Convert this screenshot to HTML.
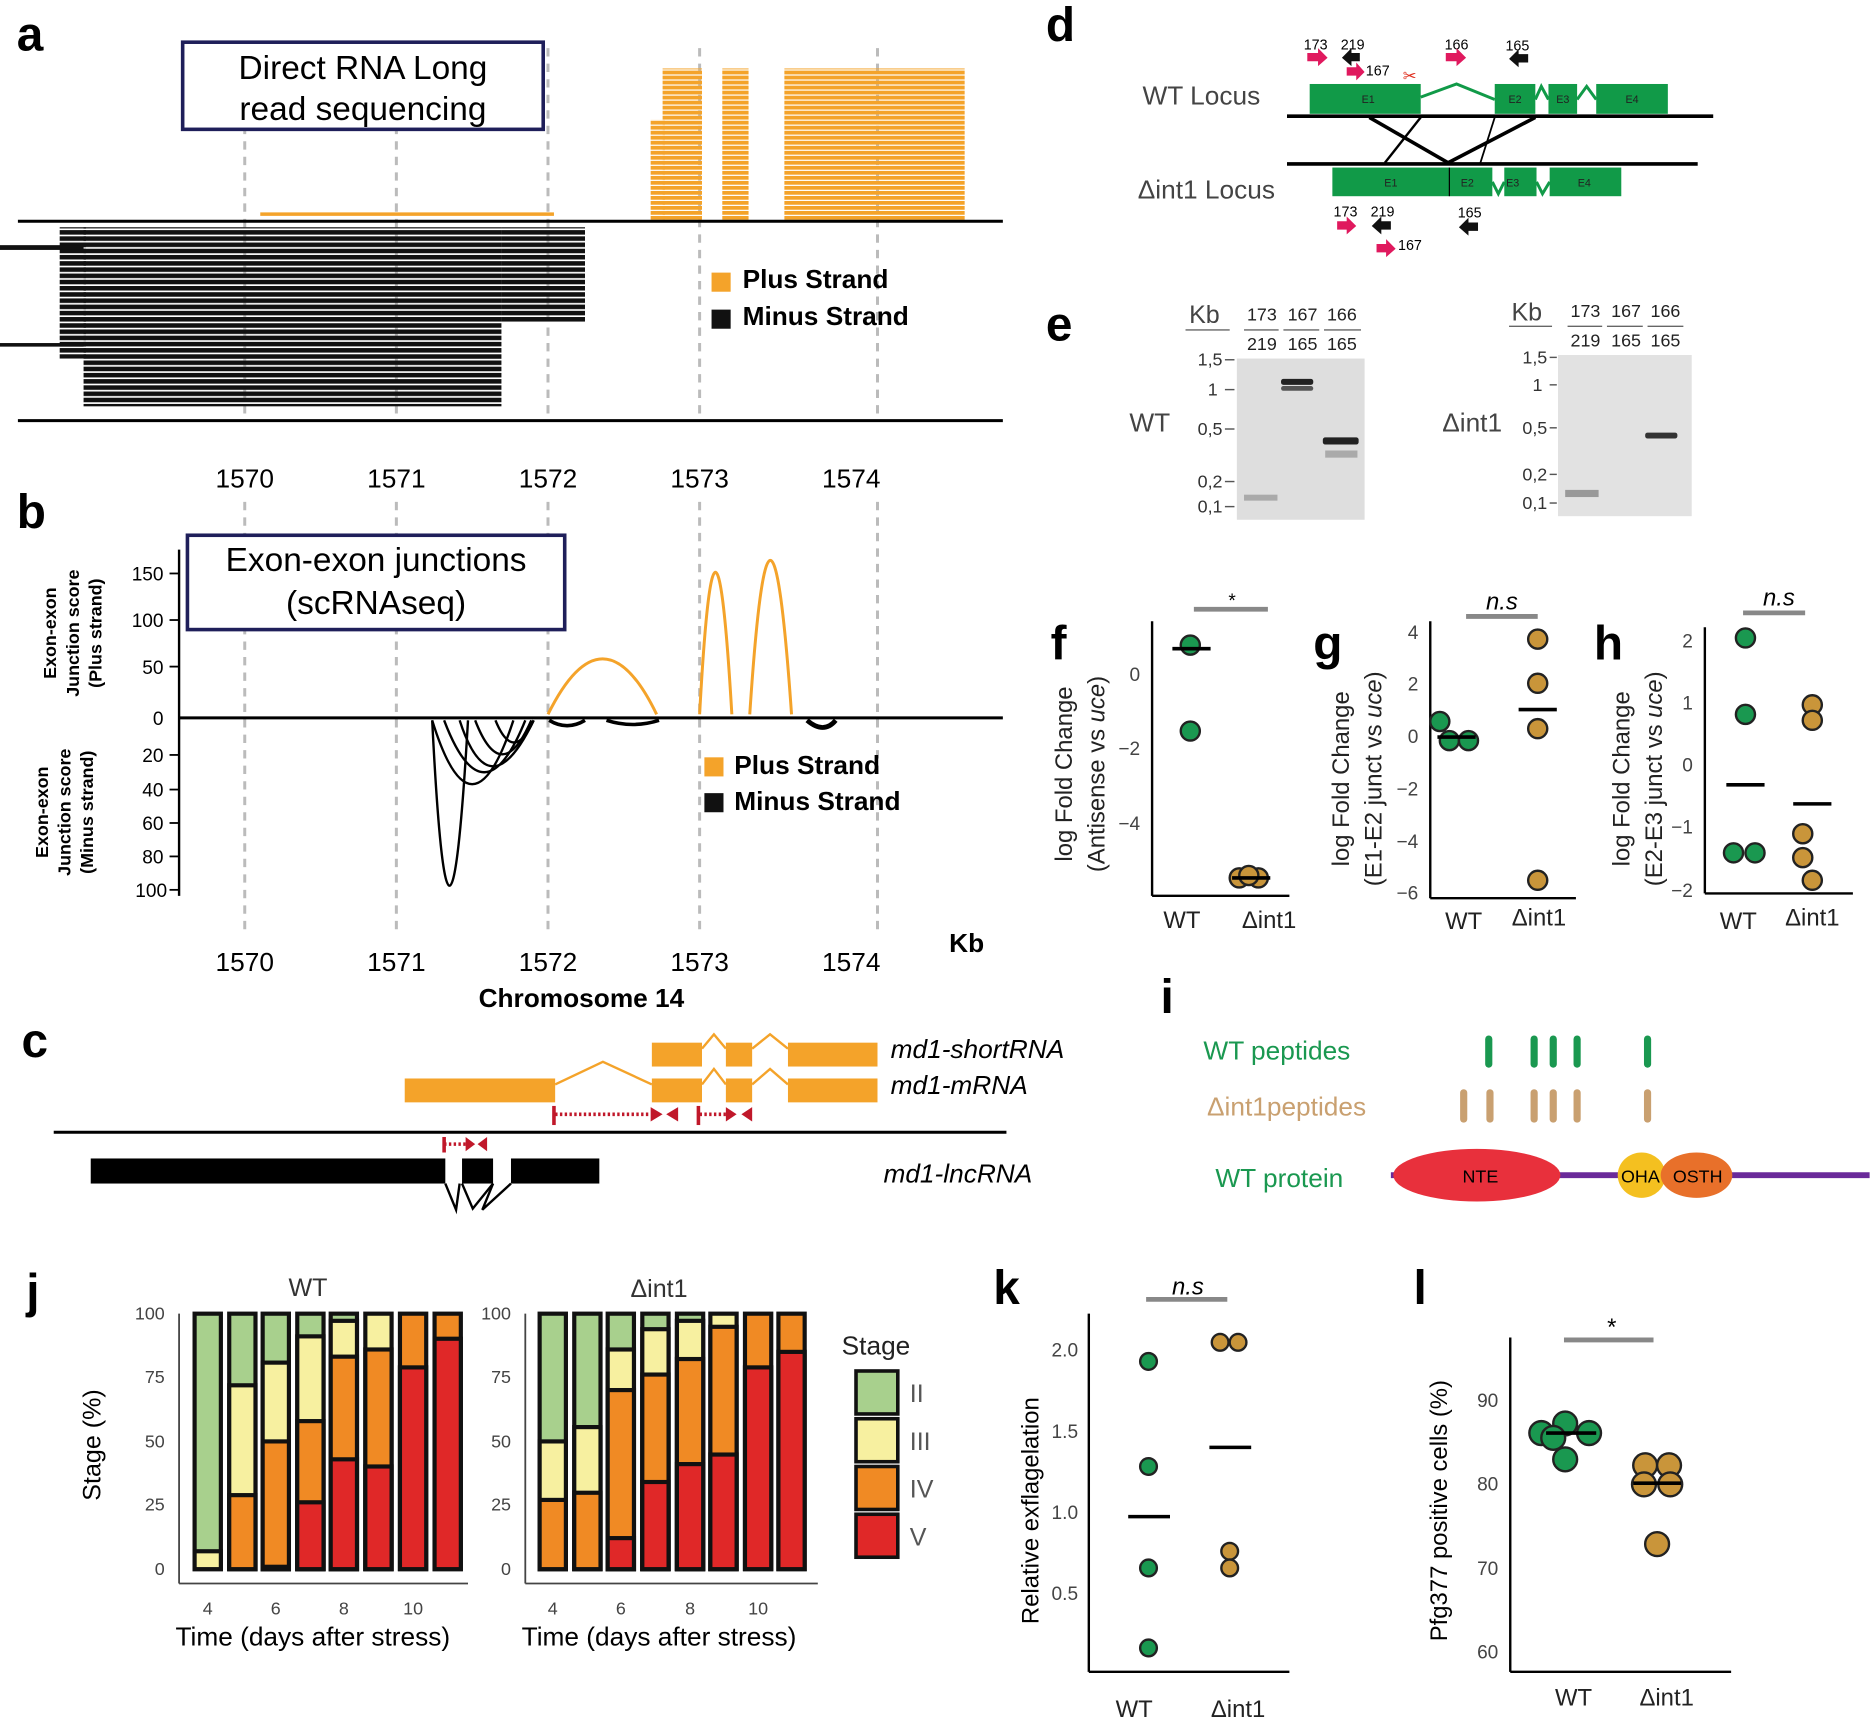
<!DOCTYPE html>
<html><head><meta charset="utf-8"><style>
html,body{margin:0;padding:0;background:#fff}
svg{display:block}
text{font-family:"Liberation Sans",Arial,sans-serif}
</style></head><body>
<svg width="1872" height="1720" viewBox="0 0 1568 1440" xmlns="http://www.w3.org/2000/svg">
<defs>
<pattern id="ostr" width="10" height="4.2" patternUnits="userSpaceOnUse"><rect width="10" height="3.2" fill="#f4a32a"/></pattern>
<pattern id="bstr" width="10" height="5.2" patternUnits="userSpaceOnUse"><rect width="10" height="3.8" fill="#111"/></pattern>
</defs>
<rect width="1568" height="1440" fill="#fff"/>
<g font-weight="bold" font-size="40" fill="#000">
<text x="14" y="42">a</text><text x="14" y="442">b</text><text x="18" y="885">c</text>
<text x="876" y="34">d</text><text x="876" y="285">e</text><text x="880" y="552">f</text>
<text x="1100" y="552">g</text><text x="1335" y="552">h</text><text x="972" y="848">i</text>
<text x="22" y="1095">j</text><text x="832" y="1092">k</text><text x="1184" y="1092">l</text>
</g>
<!-- panel a -->
<g stroke="#bbb" stroke-width="2.5" stroke-dasharray="7,6">
<line x1="205" y1="40" x2="205" y2="350"/><line x1="332" y1="40" x2="332" y2="350"/><line x1="459" y1="40" x2="459" y2="350"/><line x1="586" y1="40" x2="586" y2="350"/><line x1="735" y1="40" x2="735" y2="350"/>
<line x1="205" y1="420" x2="205" y2="778"/><line x1="332" y1="420" x2="332" y2="778"/><line x1="459" y1="420" x2="459" y2="778"/><line x1="586" y1="420" x2="586" y2="778"/><line x1="735" y1="420" x2="735" y2="778"/>
</g>
<rect x="555" y="57" width="33" height="128" fill="url(#ostr)"/>
<rect x="545" y="100" width="12" height="85" fill="url(#ostr)"/>
<rect x="605" y="57" width="22" height="128" fill="url(#ostr)"/>
<rect x="657" y="57" width="151" height="128" fill="url(#ostr)"/>
<line x1="218" y1="179" x2="464" y2="179" stroke="#f4a32a" stroke-width="3"/>
<rect x="70" y="190" width="350" height="150" fill="url(#bstr)"/>
<rect x="50" y="190" width="22" height="110" fill="url(#bstr)"/>
<rect x="420" y="190" width="70" height="80" fill="url(#bstr)"/>
<rect x="0" y="205" width="70" height="4" fill="#111"/>
<rect x="0" y="287" width="70" height="3" fill="#111"/>
<line x1="15" y1="185" x2="840" y2="185" stroke="#000" stroke-width="2.5"/>
<line x1="15" y1="352" x2="840" y2="352" stroke="#000" stroke-width="2.5"/>
<rect x="153" y="35" width="302" height="73" fill="#fff" stroke="#1f1f5a" stroke-width="3"/>
<text x="304" y="66" font-size="28" text-anchor="middle">Direct RNA Long</text>
<text x="304" y="100" font-size="28" text-anchor="middle">read sequencing</text>
<rect x="596" y="228" width="16" height="16" fill="#f4a32a"/><text x="622" y="241" font-size="22" font-weight="bold">Plus Strand</text>
<rect x="596" y="259" width="16" height="16" fill="#111"/><text x="622" y="272" font-size="22" font-weight="bold">Minus Strand</text>
<g font-size="22" text-anchor="middle"><text x="205" y="408">1570</text><text x="332" y="408">1571</text><text x="459" y="408">1572</text><text x="586" y="408">1573</text><text x="713" y="408">1574</text></g>
<!-- panel b -->
<line x1="150" y1="460" x2="150" y2="750" stroke="#000" stroke-width="2"/>
<line x1="150" y1="601" x2="840" y2="601" stroke="#000" stroke-width="2.5"/>
<g font-size="16" text-anchor="end"><text x="137" y="486">150</text><text x="137" y="525">100</text><text x="137" y="564">50</text><text x="137" y="607">0</text>
<text x="137" y="638">20</text><text x="137" y="667">40</text><text x="137" y="695">60</text><text x="137" y="723">80</text><text x="140" y="751">100</text></g>
<g stroke="#000" stroke-width="1.5"><line x1="142" y1="480" x2="150" y2="480"/><line x1="142" y1="519" x2="150" y2="519"/><line x1="142" y1="558" x2="150" y2="558"/><line x1="142" y1="632" x2="150" y2="632"/><line x1="142" y1="661" x2="150" y2="661"/><line x1="142" y1="689" x2="150" y2="689"/><line x1="142" y1="717" x2="150" y2="717"/><line x1="142" y1="745" x2="150" y2="745"/></g>
<g font-size="15" font-weight="bold" text-anchor="middle">
<text transform="translate(47,530) rotate(-90)">Exon-exon</text><text transform="translate(66,530) rotate(-90)">Junction score</text><text transform="translate(85,530) rotate(-90)">(Plus strand)</text>
<text transform="translate(40,680) rotate(-90)">Exon-exon</text><text transform="translate(59,680) rotate(-90)">Junction score</text><text transform="translate(78,680) rotate(-90)">(Minus strand)</text></g>
<g fill="none" stroke="#f4a32a" stroke-width="2.5">
<path d="M459,598 Q505,505 550,598"/><path d="M586,598 Q599,360 613,598"/><path d="M628,598 Q645,340 663,598"/></g>
<g fill="none" stroke="#000" stroke-width="2">
<path d="M362,603 Q376,880 392,603"/><path d="M362,603 Q395,710 430,603"/><path d="M372,603 Q405,690 440,603"/><path d="M385,603 Q410,680 447,603"/><path d="M398,603 Q420,660 445,603"/><path d="M415,603 Q430,640 447,603"/>
<path d="M460,603 Q475,612 490,603" stroke-width="3"/><path d="M508,603 Q530,610 552,603" stroke-width="3"/><path d="M676,603 Q690,615 700,603" stroke-width="4"/></g>
<rect x="157" y="448" width="316" height="79" fill="#fff" stroke="#1f1f5a" stroke-width="3"/>
<text x="315" y="478" font-size="28" text-anchor="middle">Exon-exon junctions</text>
<text x="315" y="514" font-size="28" text-anchor="middle">(scRNAseq)</text>
<rect x="590" y="634" width="16" height="16" fill="#f4a32a"/><text x="615" y="648" font-size="22" font-weight="bold">Plus Strand</text>
<rect x="590" y="664" width="16" height="16" fill="#111"/><text x="615" y="678" font-size="22" font-weight="bold">Minus Strand</text>
<g font-size="22" text-anchor="middle"><text x="205" y="813">1570</text><text x="332" y="813">1571</text><text x="459" y="813">1572</text><text x="586" y="813">1573</text><text x="713" y="813">1574</text></g>
<text x="795" y="797" font-size="22" font-weight="bold">Kb</text>
<text x="487" y="843" font-size="22" font-weight="bold" text-anchor="middle">Chromosome 14</text>
<!-- panel c -->
<g fill="#f4a32a"><rect x="546" y="873" width="42" height="20"/><rect x="608" y="873" width="22" height="20"/><rect x="660" y="873" width="75" height="20"/>
<rect x="339" y="903" width="126" height="20"/><rect x="546" y="903" width="42" height="20"/><rect x="608" y="903" width="22" height="20"/><rect x="660" y="903" width="75" height="20"/></g>
<g fill="none" stroke="#f4a32a" stroke-width="2"><polyline points="588,878 598,866 608,878"/><polyline points="630,878 645,866 660,878"/><polyline points="465,908 505,889 546,908"/><polyline points="588,908 598,895 608,908"/><polyline points="630,908 645,895 660,908"/></g>
<g stroke="#c0182a" stroke-width="3" fill="#c0182a"><line x1="465" y1="933" x2="545" y2="933" stroke-dasharray="2,2"/><line x1="464" y1="926" x2="464" y2="942"/><polygon points="545,927 555,933 545,939" stroke="none"/><polygon points="568,927 558,933 568,939" stroke="none"/>
<line x1="586" y1="933" x2="608" y2="933" stroke-dasharray="2,2"/><line x1="585" y1="926" x2="585" y2="942"/><polygon points="608,927 617,933 608,939" stroke="none"/><polygon points="630,927 621,933 630,939" stroke="none"/>
<line x1="372" y1="958" x2="390" y2="958" stroke-dasharray="2,2"/><line x1="372" y1="952" x2="372" y2="965"/><polygon points="390,952 398,958 390,964" stroke="none"/><polygon points="408,952 400,958 408,964" stroke="none"/></g>
<line x1="45" y1="948" x2="843" y2="948" stroke="#000" stroke-width="2.5"/>
<rect x="76" y="970" width="426" height="21" fill="#000"/><rect x="373" y="968" width="14" height="25" fill="#fff"/><rect x="413" y="968" width="15" height="25" fill="#fff"/>
<g fill="none" stroke="#000" stroke-width="2"><polyline points="373,991 382,1013 385,991"/><polyline points="387,991 396,1012 413,991"/><polyline points="413,991 404,1013 428,991"/></g>
<g font-size="22" font-style="italic"><text x="746" y="886">md1-shortRNA</text><text x="746" y="916">md1-mRNA</text><text x="740" y="990">md1-lncRNA</text></g>
<!-- panel d -->
<text x="957" y="87" font-size="22" fill="#444">WT Locus</text>
<text x="953" y="166" font-size="22" fill="#444">Δint1 Locus</text>
<g fill="#119a48"><rect x="1097" y="70" width="93" height="25"/><rect x="1252" y="70" width="34" height="25"/><rect x="1297" y="70" width="24" height="25"/><rect x="1337" y="70" width="60" height="25"/>
<rect x="1116" y="140" width="98" height="24"/><rect x="1214" y="140" width="36" height="24"/><rect x="1260" y="140" width="27" height="24"/><rect x="1298" y="140" width="60" height="24"/></g>
<g fill="none" stroke="#119a48" stroke-width="2.5"><polyline points="1190,81 1220,70 1252,83"/><polyline points="1286,83 1291,72 1297,83"/><polyline points="1321,83 1329,72 1337,83"/><polyline points="1250,152 1255,162 1260,152"/><polyline points="1287,152 1292,162 1298,152"/></g>
<line x1="1214" y1="140" x2="1214" y2="164" stroke="#000" stroke-width="1"/>
<g font-size="9" fill="#222" text-anchor="middle"><text x="1146" y="86">E1</text><text x="1269" y="86">E2</text><text x="1309" y="86">E3</text><text x="1367" y="86">E4</text><text x="1165" y="156">E1</text><text x="1229" y="156">E2</text><text x="1267" y="156">E3</text><text x="1327" y="156">E4</text></g>
<line x1="1078" y1="97" x2="1435" y2="97" stroke="#000" stroke-width="3"/>
<line x1="1078" y1="137" x2="1422" y2="137" stroke="#000" stroke-width="3"/>
<g stroke="#000"><line x1="1147" y1="98" x2="1213" y2="136" stroke-width="3"/><line x1="1190" y1="98" x2="1160" y2="136" stroke-width="2"/><line x1="1252" y1="98" x2="1240" y2="136" stroke-width="1.5"/><line x1="1286" y1="98" x2="1213" y2="136" stroke-width="3"/></g>
<g font-size="12" fill="#000" text-anchor="middle"><text x="1102" y="41">173</text><text x="1133" y="41">219</text><text x="1220" y="41">166</text><text x="1271" y="42">165</text><text x="1154" y="63">167</text>
<text x="1127" y="181">173</text><text x="1158" y="181">219</text><text x="1231" y="182">165</text><text x="1181" y="209">167</text></g>
<g fill="#e0195e"><polygon points="1095,44 1104,44 1104,40 1112,48 1104,55 1104,51 1095,51"/><polygon points="1211,44 1220,44 1220,40 1228,48 1220,55 1220,51 1211,51"/><polygon points="1128,56 1136,56 1136,52 1143,60 1136,67 1136,63 1128,63"/>
<polygon points="1120,185 1128,185 1128,181 1136,189 1128,196 1128,192 1120,192"/><polygon points="1153,204 1161,204 1161,200 1169,208 1161,215 1161,211 1153,211"/></g>
<g fill="#111"><polygon points="1139,44 1132,44 1132,40 1124,48 1132,55 1132,51 1139,51"/><polygon points="1280,45 1272,45 1272,41 1264,49 1272,56 1272,52 1280,52"/><polygon points="1165,185 1157,185 1157,181 1149,189 1157,196 1157,192 1165,192"/><polygon points="1238,186 1230,186 1230,182 1222,190 1230,197 1230,193 1238,193"/></g>
<text x="1175" y="68" font-size="14" fill="#e03020">✂</text>
<!-- panel e -->
<rect x="1036" y="300" width="107" height="135" fill="#dedede"/>
<rect x="1305" y="297" width="112" height="135" fill="#e2e2e2"/>
<g fill="#222"><rect x="1073" y="317" width="27" height="5" rx="2"/><rect x="1073" y="323" width="27" height="4" rx="2" fill="#555"/><rect x="1108" y="366" width="30" height="6" rx="2"/><rect x="1378" y="362" width="27" height="5" rx="2" fill="#333"/></g>
<rect x="1110" y="377" width="27" height="6" fill="#aaa"/><rect x="1042" y="414" width="28" height="5" fill="#aaa"/><rect x="1311" y="410" width="28" height="6" fill="#999"/>
<text x="946" y="361" font-size="22" fill="#444">WT</text>
<text x="1208" y="361" font-size="22" fill="#444">Δint1</text>
<g font-size="21" fill="#444"><text x="996" y="270">Kb</text><text x="1266" y="268">Kb</text></g>
<g font-size="15" fill="#222" text-anchor="middle"><text x="1057" y="268">173</text><text x="1091" y="268">167</text><text x="1124" y="268">166</text><text x="1057" y="293">219</text><text x="1091" y="293">165</text><text x="1124" y="293">165</text>
<text x="1328" y="265">173</text><text x="1362" y="265">167</text><text x="1395" y="265">166</text><text x="1328" y="290">219</text><text x="1362" y="290">165</text><text x="1395" y="290">165</text></g>
<g stroke="#666" stroke-width="1.2"><line x1="993" y1="276" x2="1030" y2="276"/><line x1="1042" y1="276" x2="1071" y2="276"/><line x1="1075" y1="276" x2="1105" y2="276"/><line x1="1109" y1="276" x2="1140" y2="276"/>
<line x1="1264" y1="273" x2="1300" y2="273"/><line x1="1313" y1="273" x2="1342" y2="273"/><line x1="1346" y1="273" x2="1376" y2="273"/><line x1="1380" y1="273" x2="1410" y2="273"/></g>
<g font-size="15" fill="#333" text-anchor="end"><text x="1024" y="306">1,5</text><text x="1020" y="331">1</text><text x="1024" y="364">0,5</text><text x="1024" y="408">0,2</text><text x="1024" y="429">0,1</text>
<text x="1296" y="304">1,5</text><text x="1292" y="327">1</text><text x="1296" y="363">0,5</text><text x="1296" y="402">0,2</text><text x="1296" y="426">0,1</text></g>
<g stroke="#555" stroke-width="1.2"><line x1="1026" y1="301" x2="1034" y2="301"/><line x1="1026" y1="326" x2="1034" y2="326"/><line x1="1026" y1="359" x2="1034" y2="359"/><line x1="1026" y1="403" x2="1034" y2="403"/><line x1="1026" y1="424" x2="1034" y2="424"/>
<line x1="1298" y1="299" x2="1304" y2="299"/><line x1="1298" y1="322" x2="1304" y2="322"/><line x1="1298" y1="358" x2="1304" y2="358"/><line x1="1298" y1="397" x2="1304" y2="397"/><line x1="1298" y1="421" x2="1304" y2="421"/></g>
<!-- panel f g h -->
<g stroke="#000" stroke-width="2"><line x1="965" y1="520" x2="965" y2="750"/><line x1="965" y1="750" x2="1080" y2="750"/>
<line x1="1198" y1="520" x2="1198" y2="752"/><line x1="1198" y1="752" x2="1320" y2="752"/>
<line x1="1428" y1="525" x2="1428" y2="748"/><line x1="1428" y1="748" x2="1552" y2="748"/></g>
<g font-size="16" fill="#444" text-anchor="end"><text x="955" y="570">0</text><text x="955" y="632">−2</text><text x="955" y="695">−4</text>
<text x="1188" y="535">4</text><text x="1188" y="578">2</text><text x="1188" y="622">0</text><text x="1188" y="666">−2</text><text x="1188" y="710">−4</text><text x="1188" y="753">−6</text>
<text x="1418" y="542">2</text><text x="1418" y="594">1</text><text x="1418" y="646">0</text><text x="1418" y="698">−1</text><text x="1418" y="751">−2</text></g>
<g fill="#1a9850" stroke="#222" stroke-width="2">
<circle cx="997" cy="540" r="8"/><circle cx="997" cy="612" r="8"/>
<circle cx="1206" cy="604" r="8"/><circle cx="1214" cy="620" r="8"/><circle cx="1230" cy="620" r="8"/>
<circle cx="1462" cy="534" r="8"/><circle cx="1462" cy="598" r="8"/><circle cx="1452" cy="714" r="8"/><circle cx="1470" cy="714" r="8"/></g>
<g fill="#c9953a" stroke="#222" stroke-width="2">
<circle cx="1038" cy="735" r="8"/><circle cx="1054" cy="735" r="8"/><circle cx="1046" cy="733" r="8"/>
<circle cx="1288" cy="535" r="8"/><circle cx="1288" cy="572" r="8"/><circle cx="1288" cy="610" r="8"/><circle cx="1288" cy="737" r="8"/>
<circle cx="1518" cy="590" r="8"/><circle cx="1518" cy="603" r="8"/><circle cx="1510" cy="698" r="8"/><circle cx="1510" cy="718" r="8"/><circle cx="1518" cy="737" r="8"/></g>
<g stroke="#000" stroke-width="3"><line x1="982" y1="543" x2="1014" y2="543"/><line x1="1032" y1="735" x2="1064" y2="735"/><line x1="1204" y1="617" x2="1236" y2="617"/><line x1="1272" y1="594" x2="1304" y2="594"/><line x1="1446" y1="657" x2="1478" y2="657"/><line x1="1502" y1="673" x2="1534" y2="673"/></g>
<g stroke="#888" stroke-width="4"><line x1="1000" y1="510" x2="1062" y2="510"/><line x1="1228" y1="516" x2="1288" y2="516"/><line x1="1460" y1="513" x2="1512" y2="513"/></g>
<text x="1032" y="508" font-size="16" text-anchor="middle">*</text>
<g font-size="20" font-style="italic" text-anchor="middle"><text x="1258" y="510">n.s</text><text x="1490" y="507">n.s</text></g>
<g font-size="20" fill="#222" text-anchor="middle">
<text x="990" y="777">WT</text><text x="1063" y="777">Δint1</text><text x="1226" y="778">WT</text><text x="1289" y="775">Δint1</text><text x="1456" y="778">WT</text><text x="1518" y="775">Δint1</text></g>
<g font-size="20" fill="#222" text-anchor="middle">
<text transform="translate(898,648) rotate(-90)">log Fold Change</text><text transform="translate(925,648) rotate(-90)">(Antisense  vs <tspan font-style="italic">uce</tspan>)</text>
<text transform="translate(1130,652) rotate(-90)">log Fold Change</text><text transform="translate(1157,652) rotate(-90)">(E1-E2 junct vs <tspan font-style="italic">uce</tspan>)</text>
<text transform="translate(1365,652) rotate(-90)">log Fold Change</text><text transform="translate(1392,652) rotate(-90)">(E2-E3 junct vs <tspan font-style="italic">uce</tspan>)</text></g>
<!-- panel i -->
<text x="1008" y="887" font-size="22" fill="#1a9850">WT peptides</text>
<text x="1011" y="934" font-size="22" fill="#c9a070">Δint1peptides</text>
<text x="1018" y="994" font-size="22" fill="#1a9850">WT protein</text>
<g stroke="#1a9850" stroke-width="6" stroke-linecap="round"><line x1="1247" y1="870" x2="1247" y2="891"/><line x1="1285" y1="870" x2="1285" y2="891"/><line x1="1301" y1="870" x2="1301" y2="891"/><line x1="1321" y1="870" x2="1321" y2="891"/><line x1="1380" y1="870" x2="1380" y2="891"/></g>
<g stroke="#c9a070" stroke-width="6" stroke-linecap="round"><line x1="1226" y1="915" x2="1226" y2="937"/><line x1="1248" y1="915" x2="1248" y2="937"/><line x1="1285" y1="915" x2="1285" y2="937"/><line x1="1301" y1="915" x2="1301" y2="937"/><line x1="1321" y1="915" x2="1321" y2="937"/><line x1="1380" y1="915" x2="1380" y2="937"/></g>
<line x1="1165" y1="984" x2="1566" y2="984" stroke="#6a2a9a" stroke-width="5"/>
<ellipse cx="1237" cy="984" rx="70" ry="22" fill="#e8303c"/>
<ellipse cx="1375" cy="984" rx="20" ry="19" fill="#f4c020"/>
<ellipse cx="1421" cy="984" rx="30" ry="19" fill="#e8702a"/>
<g font-size="15" text-anchor="middle"><text x="1240" y="990">NTE</text><text x="1374" y="990">OHA</text><text x="1422" y="990">OSTH</text></g>
<!-- panel j -->
<g font-size="15" fill="#444" text-anchor="end"><text x="138" y="1105">100</text><text x="138" y="1158">75</text><text x="138" y="1212">50</text><text x="138" y="1265">25</text><text x="138" y="1319">0</text>
<text x="428" y="1105">100</text><text x="428" y="1158">75</text><text x="428" y="1212">50</text><text x="428" y="1265">25</text><text x="428" y="1319">0</text></g>
<g font-size="15" fill="#444" text-anchor="middle"><text x="174" y="1352">4</text><text x="231" y="1352">6</text><text x="288" y="1352">8</text><text x="346" y="1352">10</text>
<text x="463" y="1352">4</text><text x="520" y="1352">6</text><text x="578" y="1352">8</text><text x="635" y="1352">10</text></g>
<g stroke="#444" stroke-width="1.5"><line x1="150" y1="1100" x2="150" y2="1326"/><line x1="150" y1="1326" x2="392" y2="1326"/><line x1="440" y1="1100" x2="440" y2="1326"/><line x1="440" y1="1326" x2="685" y2="1326"/></g>
<text x="258" y="1085" font-size="21" fill="#333" text-anchor="middle">WT</text>
<text x="552" y="1086" font-size="21" fill="#333" text-anchor="middle">Δint1</text>
<text x="262" y="1378" font-size="22" text-anchor="middle">Time (days after stress)</text>
<text x="552" y="1378" font-size="22" text-anchor="middle">Time (days after stress)</text>
<text transform="translate(84,1210) rotate(-90)" font-size="21" text-anchor="middle">Stage (%)</text>
<g stroke="#111" stroke-width="3.5">
<rect x="163" y="1100" width="22" height="214" fill="#a8d08d"/><rect x="163" y="1299" width="22" height="15" fill="#f7f0a0"/>
<rect x="192" y="1100" width="22" height="214" fill="#a8d08d"/><rect x="192" y="1160" width="22" height="154" fill="#f7f0a0"/><rect x="192" y="1252" width="22" height="62" fill="#f08a24"/>
<rect x="220" y="1100" width="22" height="214" fill="#a8d08d"/><rect x="220" y="1141" width="22" height="173" fill="#f7f0a0"/><rect x="220" y="1207" width="22" height="107" fill="#f08a24"/><rect x="220" y="1312" width="22" height="2" fill="#e02828"/>
<rect x="249" y="1100" width="22" height="214" fill="#a8d08d"/><rect x="249" y="1119" width="22" height="195" fill="#f7f0a0"/><rect x="249" y="1190" width="22" height="124" fill="#f08a24"/><rect x="249" y="1258" width="22" height="56" fill="#e02828"/>
<rect x="277" y="1100" width="22" height="214" fill="#a8d08d"/><rect x="277" y="1106" width="22" height="208" fill="#f7f0a0"/><rect x="277" y="1136" width="22" height="178" fill="#f08a24"/><rect x="277" y="1222" width="22" height="92" fill="#e02828"/>
<rect x="306" y="1100" width="22" height="214" fill="#f7f0a0"/><rect x="306" y="1130" width="22" height="184" fill="#f08a24"/><rect x="306" y="1228" width="22" height="86" fill="#e02828"/>
<rect x="335" y="1100" width="22" height="214" fill="#f08a24"/><rect x="335" y="1145" width="22" height="169" fill="#e02828"/>
<rect x="364" y="1100" width="22" height="214" fill="#f08a24"/><rect x="364" y="1121" width="22" height="193" fill="#e02828"/>
<rect x="452" y="1100" width="22" height="214" fill="#a8d08d"/><rect x="452" y="1207" width="22" height="107" fill="#f7f0a0"/><rect x="452" y="1256" width="22" height="58" fill="#f08a24"/>
<rect x="481" y="1100" width="22" height="214" fill="#a8d08d"/><rect x="481" y="1195" width="22" height="119" fill="#f7f0a0"/><rect x="481" y="1250" width="22" height="64" fill="#f08a24"/>
<rect x="509" y="1100" width="22" height="214" fill="#a8d08d"/><rect x="509" y="1130" width="22" height="184" fill="#f7f0a0"/><rect x="509" y="1164" width="22" height="150" fill="#f08a24"/><rect x="509" y="1288" width="22" height="26" fill="#e02828"/>
<rect x="538" y="1100" width="22" height="214" fill="#a8d08d"/><rect x="538" y="1113" width="22" height="201" fill="#f7f0a0"/><rect x="538" y="1151" width="22" height="163" fill="#f08a24"/><rect x="538" y="1241" width="22" height="73" fill="#e02828"/>
<rect x="567" y="1100" width="22" height="214" fill="#a8d08d"/><rect x="567" y="1106" width="22" height="208" fill="#f7f0a0"/><rect x="567" y="1138" width="22" height="176" fill="#f08a24"/><rect x="567" y="1226" width="22" height="88" fill="#e02828"/>
<rect x="595" y="1100" width="22" height="214" fill="#f7f0a0"/><rect x="595" y="1111" width="22" height="203" fill="#f08a24"/><rect x="595" y="1218" width="22" height="96" fill="#e02828"/>
<rect x="624" y="1100" width="22" height="214" fill="#f08a24"/><rect x="624" y="1145" width="22" height="169" fill="#e02828"/>
<rect x="652" y="1100" width="22" height="214" fill="#f08a24"/><rect x="652" y="1132" width="22" height="182" fill="#e02828"/>
</g>
<text x="705" y="1134" font-size="22" fill="#222">Stage</text>
<g stroke="#111" stroke-width="3"><rect x="717" y="1148" width="35" height="36" fill="#a8d08d"/><rect x="717" y="1188" width="35" height="36" fill="#f7f0a0"/><rect x="717" y="1228" width="35" height="36" fill="#f08a24"/><rect x="717" y="1268" width="35" height="36" fill="#e02828"/></g>
<g font-size="21" fill="#555"><text x="762" y="1174">II</text><text x="762" y="1214">III</text><text x="762" y="1254">IV</text><text x="762" y="1294">V</text></g>
<!-- panel k, l -->
<g stroke="#000" stroke-width="2"><line x1="912" y1="1100" x2="912" y2="1400"/><line x1="912" y1="1400" x2="1080" y2="1400"/>
<line x1="1265" y1="1120" x2="1265" y2="1400"/><line x1="1265" y1="1400" x2="1450" y2="1400"/></g>
<g font-size="16" fill="#444" text-anchor="end"><text x="903" y="1136">2.0</text><text x="903" y="1204">1.5</text><text x="903" y="1272">1.0</text><text x="903" y="1340">0.5</text>
<text x="1255" y="1178">90</text><text x="1255" y="1248">80</text><text x="1255" y="1319">70</text><text x="1255" y="1389">60</text></g>
<g fill="#1a9850" stroke="#222" stroke-width="2"><circle cx="962" cy="1140" r="7"/><circle cx="962" cy="1228" r="7"/><circle cx="962" cy="1313" r="7"/><circle cx="962" cy="1380" r="7"/>
<circle cx="1291" cy="1200" r="10"/><circle cx="1311" cy="1192" r="10"/><circle cx="1331" cy="1200" r="10"/><circle cx="1311" cy="1222" r="10"/><circle cx="1301" cy="1204" r="10"/></g>
<g fill="#c9953a" stroke="#222" stroke-width="2"><circle cx="1022" cy="1124" r="7"/><circle cx="1037" cy="1124" r="7"/><circle cx="1030" cy="1299" r="7"/><circle cx="1030" cy="1313" r="7"/>
<circle cx="1378" cy="1227" r="10"/><circle cx="1398" cy="1227" r="10"/><circle cx="1377" cy="1243" r="10"/><circle cx="1399" cy="1243" r="10"/><circle cx="1388" cy="1293" r="10"/></g>
<g stroke="#000" stroke-width="3"><line x1="945" y1="1270" x2="980" y2="1270"/><line x1="1013" y1="1212" x2="1048" y2="1212"/><line x1="1295" y1="1200" x2="1337" y2="1200"/><line x1="1368" y1="1242" x2="1408" y2="1242"/></g>
<g stroke="#888" stroke-width="4"><line x1="960" y1="1088" x2="1028" y2="1088"/><line x1="1310" y1="1122" x2="1385" y2="1122"/></g>
<text x="995" y="1084" font-size="20" font-style="italic" text-anchor="middle">n.s</text>
<text x="1350" y="1118" font-size="20" text-anchor="middle">*</text>
<g font-size="20" fill="#222" text-anchor="middle"><text x="950" y="1438">WT</text><text x="1037" y="1438">Δint1</text><text x="1318" y="1428">WT</text><text x="1396" y="1428">Δint1</text></g>
<text transform="translate(870,1265) rotate(-90)" font-size="20" text-anchor="middle">Relative exflagelation</text>
<text transform="translate(1212,1265) rotate(-90)" font-size="20" text-anchor="middle">Pfg377 positive cells (%)</text>
</svg>
</body></html>
